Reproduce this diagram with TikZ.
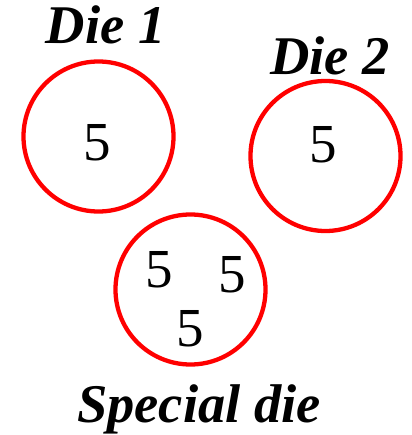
\documentclass[tikz,border=0pt]{standalone}
\usepackage{fontspec}
\setmainfont{Liberation Serif}
\begin{document}
\begin{tikzpicture}[x=1pt,y=-1pt,
  die/.style={circle, draw=red, line width=4.3pt, minimum size=150pt, inner sep=0pt},
  num/.style={font=\fontsize{55}{55}\selectfont, inner sep=0pt, anchor=center},
  lbl/.style={font=\fontsize{54.5}{54.5}\selectfont\bfseries\itshape, inner sep=0pt, anchor=base}]
\useasboundingbox (0,0) rectangle (411,435);
\node[die] (c1) at (98.5,136.5) {};
\node[die] (c2) at (325.5,156) {};
\node[die] (c3) at (190.5,289.5) {};
\node[num] (n1) at (97.5,143) {5};
\node[num] (n2) at (323.5,144.5) {5};
\node[num] (n3) at (159,269.5) {5};
\node[num] (n4) at (232.5,274.5) {5};
\node[num] (n5) at (190.5,329) {5};
\node[lbl] (l1) at (105.5,44) {Die 1};
\node[lbl] (l2) at (330,75) {Die 2};
\node[lbl] (l3) at (199,422) {Special die};
\end{tikzpicture}
\end{document}
